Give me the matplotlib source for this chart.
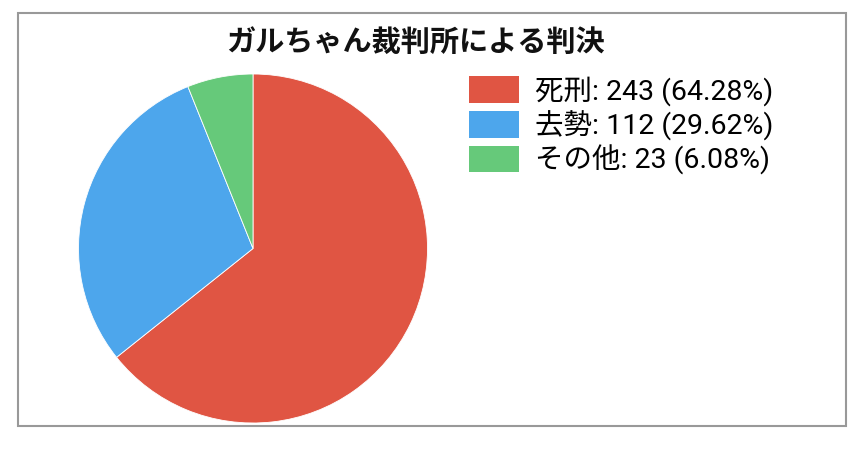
import matplotlib
matplotlib.use("Agg")
import matplotlib.pyplot as plt
from matplotlib.patches import Rectangle, Patch

plt.rcParams['font.family'] = ['Noto Sans CJK JP', 'DejaVu Sans']

labels = ["死刑", "去勢", "その他"]
counts = [243, 112, 23]
percents = ["64.28", "29.62", "6.08"]  # as printed in the legend
colors = ["#E05543", "#4DA6EC", "#66C97A"]
title = "ガルちゃん裁判所による判決"

W, H = 863, 449
fig = plt.figure(figsize=(W / 100, H / 100), dpi=100)

# outer frame
fig.patches.append(Rectangle((17.5 / W, 1 - 425.5 / H), 828 / W, 413 / H,
                             transform=fig.transFigure, fill=False,
                             edgecolor="#999999", linewidth=1.5))

fig.text(415 / W, 1 - 42 / H, title, ha="center", va="center",
         fontsize=21, fontweight="bold", color="#111111")

# pie centre ~ (253, 248.5), radius ~174.5 px
r = 174.5
ax = fig.add_axes([(253 - r) / W, (H - 248.5 - r) / H, 2 * r / W, 2 * r / H])
ax.pie(counts, colors=colors, startangle=90, counterclock=False,
       wedgeprops=dict(edgecolor="white", linewidth=0.6))
ax.set_xlim(-1, 1)
ax.set_ylim(-1, 1)
ax.set_aspect("equal")
ax.axis("off")

handles = [Patch(facecolor=c, edgecolor="none") for c in colors]
texts = [f"{l}: {n} ({p}%)" for l, n, p in zip(labels, counts, percents)]
fs = 20.5
px = fs * 100 / 72
leg = fig.legend(handles, texts, loc="upper left",
                 bbox_to_anchor=(469 / W, 1 - 76 / H), borderaxespad=0,
                 frameon=False, borderpad=0,
                 prop=dict(family=['Roboto', 'Noto Sans CJK JP'], size=fs),
                 handlelength=50 / px, handleheight=30 / px,
                 handletextpad=16 / px, labelspacing=4.5 / px)

fig.savefig("out.png", dpi=100)
